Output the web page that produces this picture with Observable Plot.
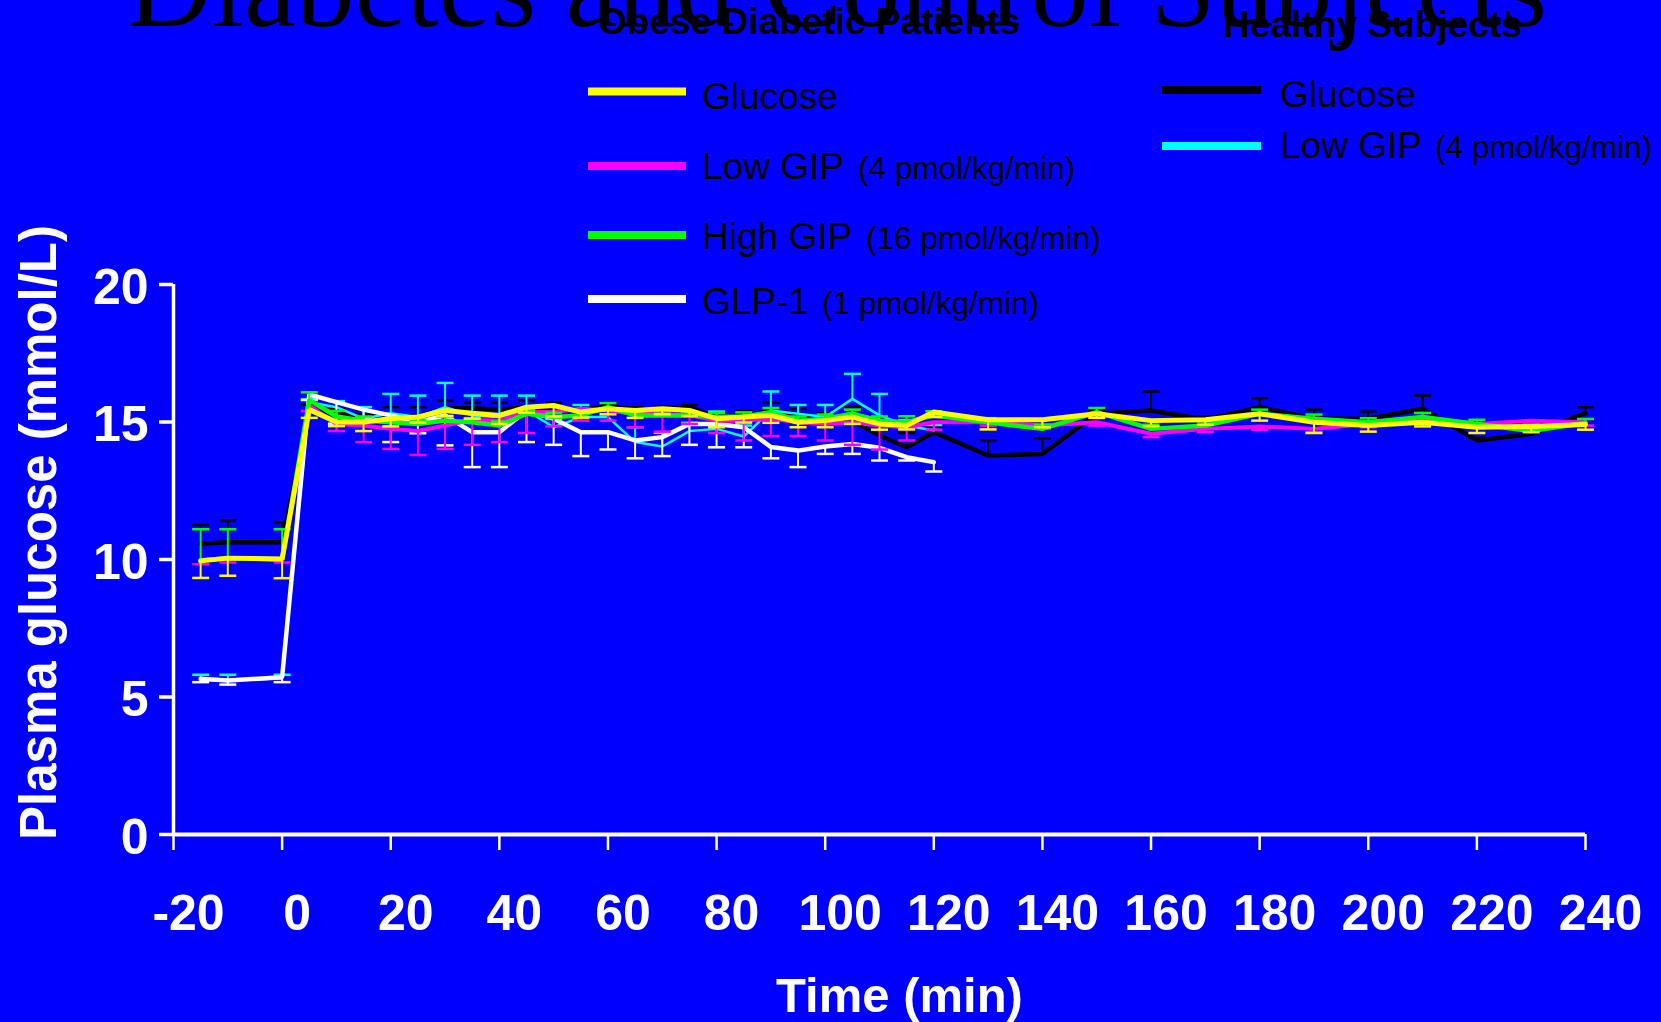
<!DOCTYPE html>
<html>
<head>
<meta charset="utf-8">
<script src="https://cdn.jsdelivr.net/npm/d3@7"></script>
<script src="https://cdn.jsdelivr.net/npm/@observablehq/plot@0.6"></script>
<style>
  html, body { margin: 0; padding: 0; background: #0000ff; }
  #fig { position: relative; width: 1661px; height: 1022px; overflow: hidden; background: #0000ff; }
  #fig svg { display: block; }
  #overlay { position: absolute; left: 0; top: 0; pointer-events: none; }
</style>
</head>
<body>
<div id="fig"></div>
<script>
// Sampling times (min): every 5 min to 120, then every 10 min to 240
const timesLong = [-15, -10, 0, 5, 10, 15, 20, 25, 30, 35, 40, 45, 50, 55, 60, 65, 70, 75, 80, 85, 90, 95, 100, 105, 110, 115, 120, 130, 140, 150, 160, 170, 180, 190, 200, 210, 220, 230, 240];
const timesShort = [-15, -10, 0, 5, 10, 15, 20, 25, 30, 35, 40, 45, 50, 55, 60, 65, 70, 75, 80, 85, 90, 95, 100, 105, 110, 115, 120];

// Obese diabetic patients – plasma glucose (mmol/L), mean and SEM
const obeseGlucose = [9.95, 10.05, 10.02, 15.45, 15.0, 15.0, 15.12, 15.18, 15.42, 15.32, 15.24, 15.54, 15.6, 15.36, 15.48, 15.42, 15.48, 15.42, 15.12, 15.18, 15.24, 14.99, 15.05, 15.18, 14.93, 14.87, 15.36, 15.08, 15.08, 15.3, 15.05, 15.08, 15.3, 14.99, 14.87, 14.99, 14.81, 14.84, 14.91];
const obeseGlucoseSem = [0.62, 0.64, 0.7, 0.3, 0.15, 0.33, 0.28, 0.2, 0.2, 0.2, 0.31, 0.2, 0.4, 0.2, 0.2, 0.27, 0.2, 0.2, 0.31, 0.2, 0.27, 0.18, 0.24, 0.25, 0.21, 0.14, 0.18, 0.35, 0.27, 0.15, 0.2, 0.18, 0.25, 0.39, 0.22, 0.15, 0.21, 0.21, 0.19];

const obeseLowGip = [9.95, 10.05, 10.0, 15.6, 14.93, 14.87, 14.75, 14.67, 14.87, 15.08, 15.05, 15.36, 15.36, 15.48, 15.42, 15.3, 15.3, 15.24, 15.05, 15.05, 15.12, 14.99, 14.93, 14.99, 14.87, 14.81, 14.99, 14.99, 14.87, 14.99, 14.57, 14.75, 14.84, 14.75, 14.93, 15.05, 14.93, 15.05, 14.99];
const obeseLowGipSem = [0.12, 0.16, 0.11, 0.2, 0.26, 0.6, 0.73, 0.87, 0.85, 0.91, 0.78, 0.76, 0.52, 0.43, 0.37, 0.49, 0.65, 0.31, 0.45, 0.72, 0.63, 0.5, 0.6, 0.82, 0.87, 0.48, 0.27, 0.12, 0.12, 0.12, 0.12, 0.12, 0.12, 0.12, 0.12, 0.12, 0.12, 0.12, 0.12];

const obeseHighGip = [9.97, 10.05, 10.0, 15.8, 15.2, 15.05, 14.99, 14.93, 15.05, 14.99, 14.87, 15.3, 15.18, 15.24, 15.54, 15.24, 15.24, 15.24, 15.18, 15.2, 15.36, 15.05, 15.12, 15.3, 15.05, 14.99, 15.24, 14.99, 14.75, 15.36, 14.75, 14.87, 15.3, 15.12, 14.99, 15.18, 14.93, 14.67, 14.96];
const obeseHighGipSem = [1.13, 1.05, 1.1, 0.28, 0.2, 0.15, 0.15, 0.15, 0.15, 0.15, 0.15, 0.15, 0.15, 0.15, 0.15, 0.15, 0.15, 0.15, 0.15, 0.15, 0.15, 0.15, 0.15, 0.15, 0.15, 0.22, 0.15, 0.15, 0.15, 0.15, 0.15, 0.15, 0.15, 0.15, 0.15, 0.15, 0.15, 0.15, 0.15];

const obeseGlp1 = [5.66, 5.6, 5.72, 16.0, 15.72, 15.45, 15.24, 14.99, 15.24, 14.63, 14.63, 15.42, 15.12, 14.63, 14.63, 14.33, 14.45, 14.93, 14.93, 14.81, 14.09, 13.96, 14.11, 14.2, 14.06, 13.72, 13.54];
const obeseGlp1Sem = [0.12, 0.15, 0.18, 0.2, 0.78, 0.3, 0.97, 0.4, 1.09, 1.27, 1.27, 1.15, 0.95, 0.87, 0.63, 0.65, 0.69, 0.76, 0.85, 0.73, 0.41, 0.6, 0.27, 0.36, 0.46, 0.12, 0.34];

// Healthy subjects
const healthyGlucose = [10.57, 10.63, 10.63, 15.4, 15.3, 15.24, 15.2, 15.2, 15.5, 15.5, 15.45, 15.54, 15.54, 15.42, 15.6, 15.42, 15.48, 15.54, 15.18, 15.24, 15.4, 15.3, 15.1, 15.05, 14.51, 14.08, 14.63, 13.78, 13.84, 15.3, 15.42, 15.08, 15.54, 15.12, 15.12, 15.48, 14.33, 14.57, 15.32];
const healthyGlucoseSem = [0.69, 0.79, 0.72, 0.24, 0.2, 0.2, 0.34, 0.34, 0.28, 0.2, 0.25, 0.24, 0.16, 0.2, 0.1, 0.12, 0.08, 0.08, 0.2, 0.16, 0.3, 0.18, 0.22, 0.5, 0.2, 0.52, 0.2, 0.55, 0.57, 0.15, 0.69, 0.13, 0.33, 0.33, 0.26, 0.48, 0.1, 0.1, 0.22];

const healthyLowGip = [5.62, 5.6, 5.68, 15.72, 15.54, 15.12, 15.32, 15.18, 15.54, 15.24, 15.18, 15.42, 14.81, 15.18, 15.18, 14.27, 14.11, 14.67, 14.75, 14.47, 15.42, 15.3, 15.18, 15.84, 15.24, 14.87, 14.69];
const healthyLowGipSem = [0.19, 0.21, 0.13, 0.1, 0.22, 0.42, 0.7, 0.78, 0.88, 0.72, 0.78, 0.54, 0.3, 0.44, 0.3, 0.54, 0.5, 0.3, 0.63, 0.4, 0.69, 0.32, 0.44, 0.91, 0.78, 0.2, 0.2];

// Axis ticks
const xTicks = [-20, 0, 20, 40, 60, 80, 100, 120, 140, 160, 180, 200, 220, 240];
const yTicks = [0, 5, 10, 15, 20];

const sans = "'Liberation Sans', Arial, Helvetica, sans-serif";

// Series in drawing order (bottom to top); dir = side the SEM bar is drawn on
const series = [
  {name: "Healthy Glucose", t: timesLong, v: healthyGlucose, sem: healthyGlucoseSem, color: "#000000", width: 4.5, dir: 1},
  {name: "Healthy Low GIP", t: timesShort, v: healthyLowGip, sem: healthyLowGipSem, color: "#00ffff", width: 2.5, dir: 1},
  {name: "Obese GLP-1", t: timesShort, v: obeseGlp1, sem: obeseGlp1Sem, color: "#ffffff", width: 4.5, dir: -1},
  {name: "Obese Low GIP", t: timesLong, v: obeseLowGip, sem: obeseLowGipSem, color: "#ff00ff", width: 4, dir: -1},
  {name: "Obese High GIP", t: timesLong, v: obeseHighGip, sem: obeseHighGipSem, color: "#00ff00", width: 4.5, dir: 1},
  {name: "Obese Glucose", t: timesLong, v: obeseGlucose, sem: obeseGlucoseSem, color: "#ffff00", width: 5, dir: -1}
];

// Horizontal cap drawn as a symbol so its width stays in pixels
const capSymbol = {
  draw(ctx, size) {
    const w = Math.sqrt(size / Math.PI);
    ctx.moveTo(-w, 0);
    ctx.lineTo(w, 0);
  }
};

const seriesMarks = series.flatMap(s => {
  const rows = s.t.map((t, i) => ({t, v: s.v[i], end: s.v[i] + s.dir * s.sem[i]}));
  return [
    Plot.line(rows, {x: "t", y: "v", stroke: s.color, strokeWidth: s.width, strokeLinejoin: "miter"}),
    Plot.ruleX(rows, {x: "t", y1: "v", y2: "end", stroke: s.color, strokeWidth: 2}),
    Plot.dot(rows, {x: "t", y: "end", symbol: capSymbol, r: 8.5, stroke: s.color, strokeWidth: 2.5, fill: "none"})
  ];
});

const chart = Plot.plot({
  width: 1661,
  height: 1022,
  marginLeft: 173,
  marginRight: 76,
  marginTop: 284,
  marginBottom: 188,
  style: {background: "transparent", overflow: "visible"},
  x: {domain: [-20, 240], axis: null},
  y: {domain: [0, 20], axis: null},
  marks: [
    // axis ticks
    Plot.axisX({ticks: xTicks, tickSize: 16, tickFormat: () => "", stroke: "white", strokeWidth: 2.5, label: null}),
    Plot.axisY({ticks: yTicks, tickSize: 14, tickFormat: () => "", stroke: "white", strokeWidth: 3.5, label: null}),
    // axis lines
    Plot.ruleX([-20], {stroke: "white", strokeWidth: 3.5}),
    Plot.ruleY([0], {stroke: "white", strokeWidth: 4}),
    // tick labels
    Plot.text(xTicks, {x: d => d, text: d => String(d), frameAnchor: "bottom", lineAnchor: "top", dy: 60, dx: 15,
      fill: "white", fontSize: 50, fontWeight: "bold", fontFamily: sans}),
    Plot.text(yTicks, {y: d => d, text: d => String(d), frameAnchor: "left", textAnchor: "end", dx: -25, dy: 3,
      fill: "white", fontSize: 50, fontWeight: "bold", fontFamily: sans}),
    // axis titles
    Plot.text(["Time (min)"], {frameAnchor: "bottom", textAnchor: "middle", lineAnchor: "middle", dx: 20, dy: 162,
      fill: "white", fontSize: 49, fontWeight: "bold", fontFamily: sans}),
    Plot.text(["Plasma glucose (mmol/L)"], {frameAnchor: "left", textAnchor: "middle", rotate: -90, lineAnchor: "middle", dx: -134, dy: -27,
      fill: "white", fontSize: 51, fontWeight: "bold", fontFamily: sans}),
    ...seriesMarks
  ]
});

const fig = document.getElementById("fig");
fig.appendChild(chart);

// Title and legend, laid over the upper part of the figure
const overlay = d3.create("svg")
  .attr("id", "overlay")
  .attr("width", 1661)
  .attr("height", 340)
  .attr("font-family", sans);

overlay.append("text")
  .attr("x", 127).attr("y", 26)
  .attr("font-family", "'Liberation Serif', 'Times New Roman', serif")
  .attr("font-size", 117)
  .attr("fill", "black")
  .text("Diabetes and Control Subjects");

overlay.append("text")
  .attr("x", 598).attr("y", 34)
  .attr("font-size", 36).attr("font-weight", "bold").attr("fill", "black")
  .attr("textLength", 422).attr("lengthAdjust", "spacingAndGlyphs")
  .text("Obese Diabetic Patients");

overlay.append("text")
  .attr("x", 1223).attr("y", 37)
  .attr("font-size", 36).attr("font-weight", "bold").attr("fill", "black")
  .attr("textLength", 299).attr("lengthAdjust", "spacingAndGlyphs")
  .text("Healthy Subjects");

const obeseLegend = [
  {label: "Glucose", note: "", color: "#ffff00", lineY: 91.5, textY: 109, noteX: 0},
  {label: "Low GIP", note: "(4 pmol/kg/min)", color: "#ff00ff", lineY: 166, textY: 179, noteX: 858},
  {label: "High GIP", note: "(16 pmol/kg/min)", color: "#00ff00", lineY: 235, textY: 249, noteX: 866},
  {label: "GLP-1", note: "(1 pmol/kg/min)", color: "#ffffff", lineY: 299, textY: 314, noteX: 822}
];
const healthyLegend = [
  {label: "Glucose", note: "", color: "#000000", lineY: 90, textY: 107, noteX: 0},
  {label: "Low GIP", note: "(4 pmol/kg/min)", color: "#00ffff", lineY: 146, textY: 158, noteX: 1435}
];

function drawLegend(items, x1, x2, textX) {
  for (const d of items) {
    overlay.append("line")
      .attr("x1", x1).attr("x2", x2).attr("y1", d.lineY).attr("y2", d.lineY)
      .attr("stroke", d.color).attr("stroke-width", 8);
    const t = overlay.append("text").attr("y", d.textY).attr("fill", "black");
    t.append("tspan").attr("x", textX).attr("font-size", 37).text(d.label);
    if (d.note) t.append("tspan").attr("x", d.noteX).attr("font-size", 31.5).text(d.note);
  }
}
drawLegend(obeseLegend, 588, 686, 702);
drawLegend(healthyLegend, 1162, 1261, 1280);

fig.appendChild(overlay.node());
</script>
</body>
</html>
